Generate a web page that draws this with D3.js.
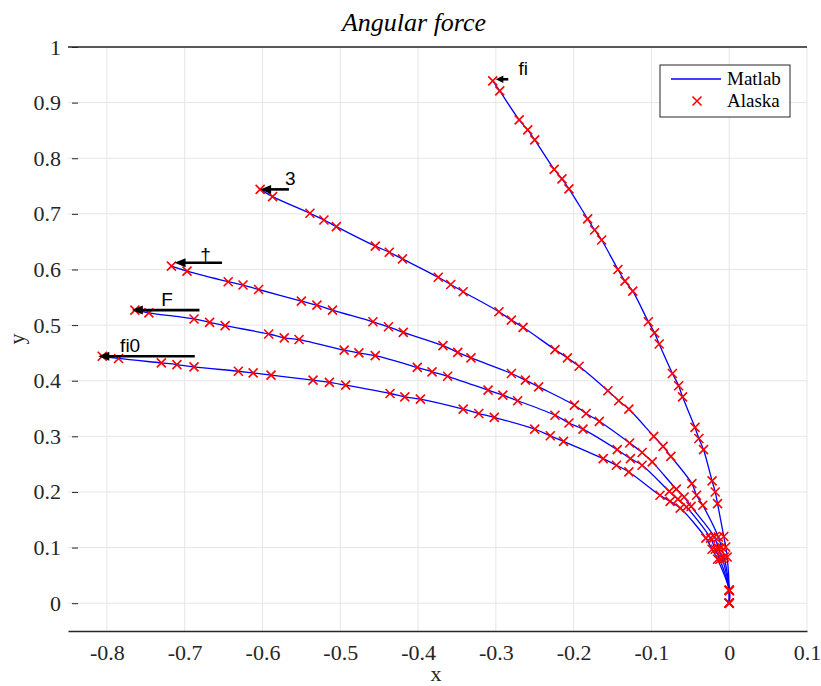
<!DOCTYPE html>
<html>
<head>
<meta charset="utf-8">
<script src="https://cdn.jsdelivr.net/npm/d3@7"></script>
<style>
  body { margin: 0; background: #fff; }
  svg { display: block; }
</style>
</head>
<body>
<svg id="chart" width="821" height="686"></svg>
<script>
// Axis ticks
const xTickValues = [-0.8, -0.7, -0.6, -0.5, -0.4, -0.3, -0.2, -0.1, 0, 0.1];
const xTickLabels = ["-0.8", "-0.7", "-0.6", "-0.5", "-0.4", "-0.3", "-0.2", "-0.1", "0", "0.1"];
const yTickValues = [0, 0.1, 0.2, 0.3, 0.4, 0.5, 0.6, 0.7, 0.8, 0.9, 1];
const yTickLabels = ["0", "0.1", "0.2", "0.3", "0.4", "0.5", "0.6", "0.7", "0.8", "0.9", "1"];

// Trajectory "fi"
const fiX = [-0.304, -0.295, -0.270, -0.259, -0.250, -0.225, -0.215, -0.206, -0.182, -0.173, -0.164,
  -0.143, -0.134, -0.124, -0.104, -0.096, -0.090, -0.073, -0.065, -0.060, -0.044, -0.039, -0.033,
  -0.022, -0.018, -0.015, -0.007, -0.0045, -0.0026, 0, 0];
const fiY = [0.939, 0.921, 0.869, 0.851, 0.833, 0.780, 0.763, 0.745, 0.691, 0.671, 0.653,
  0.600, 0.579, 0.561, 0.506, 0.486, 0.466, 0.413, 0.391, 0.371, 0.316, 0.296, 0.276,
  0.220, 0.200, 0.179, 0.120, 0.101, 0.083, 0.023, 0];

// Trajectory "3"
const threeX = [-0.603, -0.587, -0.539, -0.521, -0.505, -0.455, -0.437, -0.420, -0.374, -0.358, -0.342,
  -0.296, -0.280, -0.265, -0.224, -0.208, -0.193, -0.156, -0.142, -0.129, -0.097, -0.085, -0.075,
  -0.048, -0.042, -0.034, -0.014, -0.010, -0.0064, 0, 0];
const threeY = [0.744, 0.731, 0.701, 0.689, 0.677, 0.642, 0.631, 0.619, 0.586, 0.573, 0.560,
  0.524, 0.509, 0.496, 0.456, 0.441, 0.426, 0.382, 0.364, 0.349, 0.300, 0.282, 0.264,
  0.215, 0.194, 0.176, 0.119, 0.101, 0.083, 0.023, 0];

// Trajectory "†"
const daggerX = [-0.717, -0.697, -0.644, -0.625, -0.605, -0.550, -0.530, -0.510, -0.458, -0.438, -0.419,
  -0.368, -0.349, -0.332, -0.280, -0.262, -0.245, -0.199, -0.184, -0.167, -0.128, -0.112, -0.099,
  -0.068, -0.058, -0.049, -0.019, -0.014, -0.009, 0, 0];
const daggerY = [0.606, 0.597, 0.578, 0.572, 0.564, 0.543, 0.536, 0.527, 0.506, 0.497, 0.487,
  0.463, 0.451, 0.441, 0.413, 0.401, 0.389, 0.356, 0.341, 0.327, 0.288, 0.271, 0.254,
  0.205, 0.191, 0.174, 0.119, 0.099, 0.081, 0.023, 0];

// Trajectory "F"
const forceX = [-0.764, -0.746, -0.688, -0.668, -0.648, -0.592, -0.572, -0.553, -0.495, -0.476, -0.455,
  -0.401, -0.382, -0.362, -0.310, -0.291, -0.272, -0.224, -0.206, -0.188, -0.144, -0.127, -0.112,
  -0.077, -0.066, -0.055, -0.024, -0.018, -0.012, 0, 0];
const forceY = [0.527, 0.522, 0.511, 0.505, 0.499, 0.484, 0.477, 0.474, 0.455, 0.450, 0.445,
  0.424, 0.416, 0.408, 0.383, 0.374, 0.364, 0.338, 0.324, 0.313, 0.276, 0.260, 0.248,
  0.201, 0.187, 0.173, 0.117, 0.097, 0.079, 0.023, 0];

// Trajectory "fi0"
const fi0X = [-0.806, -0.785, -0.730, -0.710, -0.688, -0.631, -0.612, -0.589, -0.535, -0.514, -0.493,
  -0.436, -0.417, -0.397, -0.342, -0.322, -0.302, -0.250, -0.230, -0.213, -0.162, -0.145, -0.129,
  -0.089, -0.076, -0.063, -0.030, -0.022, -0.015, 0, 0];
const fi0Y = [0.444, 0.440, 0.432, 0.429, 0.425, 0.417, 0.414, 0.410, 0.401, 0.397, 0.392,
  0.377, 0.371, 0.367, 0.349, 0.341, 0.334, 0.313, 0.301, 0.291, 0.260, 0.248, 0.236,
  0.194, 0.183, 0.171, 0.117, 0.097, 0.079, 0.023, 0];

// Force arrows at the start of each trajectory, with their labels
const arrowNames = ["fi", "3", "\u2020", "F", "fi0"];
const arrowTipX  = [-0.300, -0.603, -0.713, -0.768, -0.811];
const arrowTailX = [-0.284, -0.566, -0.652, -0.681, -0.687];
const arrowY     = [0.942, 0.744, 0.612, 0.527, 0.444];
const labelX     = [-0.271, -0.571, -0.680, -0.730, -0.783];
const labelY     = [0.950, 0.752, 0.615, 0.534, 0.451];

const legendNames = ["Matlab", "Alaska"];

const trajectories = [
  { x: fiX, y: fiY },
  { x: threeX, y: threeY },
  { x: daggerX, y: daggerY },
  { x: forceX, y: forceY },
  { x: fi0X, y: fi0Y }
];

const svg = d3.select("#chart");
const plotLeft = 68, plotRight = 807, plotTop = 47, plotBottom = 631;

const x = d3.scaleLinear().domain([-0.85, 0.1]).range([plotLeft, plotRight]);
const y = d3.scaleLinear().domain([-0.05, 1]).range([plotBottom, plotTop]);

const serif = "'Liberation Serif', 'Times New Roman', serif";
const sans = "'Liberation Sans', Arial, Helvetica, sans-serif";

// Grid
const grid = svg.append("g").attr("class", "grid");
grid.selectAll("line.gx").data(xTickValues).join("line")
  .attr("x1", d => x(d)).attr("x2", d => x(d))
  .attr("y1", plotTop).attr("y2", plotBottom)
  .attr("stroke", "#e6e6e6").attr("stroke-width", 1);
grid.selectAll("line.gy").data(yTickValues).join("line")
  .attr("x1", plotLeft).attr("x2", plotRight)
  .attr("y1", d => y(d)).attr("y2", d => y(d))
  .attr("stroke", "#e6e6e6").attr("stroke-width", 1);

// Axes
const xAxis = d3.axisBottom(x).tickValues(xTickValues)
  .tickFormat((d, i) => xTickLabels[i]).tickSize(0).tickPadding(13);
const gx = svg.append("g").attr("transform", `translate(0,${plotBottom})`).call(xAxis);
gx.attr("font-family", serif).attr("font-size", 22);
gx.select(".domain").attr("stroke", "#262626").attr("stroke-width", 1.6);
gx.selectAll("text").attr("font-family", serif).attr("font-size", 22).attr("fill", "#262626");

const yAxis = d3.axisLeft(y).tickValues(yTickValues)
  .tickFormat((d, i) => yTickLabels[i]).tickSize(-8).tickPadding(7);
const gy = svg.append("g").attr("transform", `translate(${plotLeft},0)`).call(yAxis);
gy.attr("font-family", serif).attr("font-size", 22);
gy.select(".domain").remove();
gy.selectAll(".tick line").attr("stroke", "#262626").attr("stroke-width", 1)
  .attr("x1", 4).attr("x2", 10);
gy.selectAll("text").attr("font-family", serif).attr("font-size", 22).attr("fill", "#262626");

// Top border
svg.append("line").attr("x1", plotLeft).attr("x2", plotRight).attr("y1", plotTop).attr("y2", plotTop)
  .attr("stroke", "#262626").attr("stroke-width", 1.6);

// Axis titles
svg.append("text").attr("x", x(-0.4) + 18).attr("y", 681)
  .attr("text-anchor", "middle").attr("font-family", serif).attr("font-size", 22)
  .attr("fill", "#262626").text("x");
svg.append("text").attr("transform", `translate(24,${y(0.475)}) rotate(-90)`)
  .attr("text-anchor", "middle").attr("font-family", serif).attr("font-size", 22)
  .attr("fill", "#262626").text("y");

// Title
svg.append("text").attr("x", 414).attr("y", 31)
  .attr("text-anchor", "middle").attr("font-family", serif).attr("font-style", "italic")
  .attr("font-size", 26).attr("fill", "#000").text("Angular force");

// Trajectory lines
const line = d3.line().x(d => x(d[0])).y(d => y(d[1])).curve(d3.curveCatmullRom.alpha(0.5));
const plot = svg.append("g");
trajectories.forEach(t => {
  const pts = t.x.map((v, i) => [v, t.y[i]]);
  plot.append("path").attr("d", line(pts)).attr("fill", "none")
    .attr("stroke", "#0000ff").attr("stroke-width", 1.3);
});

// Cross markers
const cross = (cx, cy, r) => `M${cx - r},${cy - r}L${cx + r},${cy + r}M${cx - r},${cy + r}L${cx + r},${cy - r}`;
trajectories.forEach(t => {
  plot.append("g").selectAll("path").data(t.x.map((v, i) => [v, t.y[i]])).join("path")
    .attr("d", d => cross(x(d[0]), y(d[1]), 4.5))
    .attr("stroke", "#ff0000").attr("stroke-width", 1.6).attr("fill", "none");
});

// Arrows
const arrows = svg.append("g");
arrowNames.forEach((name, i) => {
  const tx = x(arrowTipX[i]), ax = x(arrowTailX[i]), ay = y(arrowY[i]);
  const len = ax - tx;
  const head = Math.min(11, len * 0.6);
  const hw = Math.min(4.5, head * 0.5);
  arrows.append("line").attr("x1", ax).attr("x2", tx + head * 0.8).attr("y1", ay).attr("y2", ay)
    .attr("stroke", "#000").attr("stroke-width", 2.6);
  arrows.append("path")
    .attr("d", `M${tx},${ay}L${tx + head},${ay - hw}L${tx + head},${ay + hw}Z`)
    .attr("fill", "#000");
  arrows.append("text").attr("x", x(labelX[i])).attr("y", y(labelY[i]))
    .attr("font-family", sans).attr("font-size", 19).attr("fill", "#000").text(name);
});

// Legend
const lg = svg.append("g").attr("transform", "translate(660,65)");
lg.append("rect").attr("width", 130).attr("height", 52).attr("fill", "#fff")
  .attr("stroke", "#262626").attr("stroke-width", 1);
lg.append("line").attr("x1", 11).attr("x2", 61).attr("y1", 14).attr("y2", 14)
  .attr("stroke", "#0000ff").attr("stroke-width", 1.3);
lg.append("path").attr("d", cross(37, 36, 4.5)).attr("stroke", "#ff0000")
  .attr("stroke-width", 1.6).attr("fill", "none");
lg.selectAll("text").data(legendNames).join("text")
  .attr("x", 67).attr("y", (d, i) => 20 + i * 22)
  .attr("font-family", serif).attr("font-size", 19).attr("fill", "#000").text(d => d);
</script>
</body>
</html>
